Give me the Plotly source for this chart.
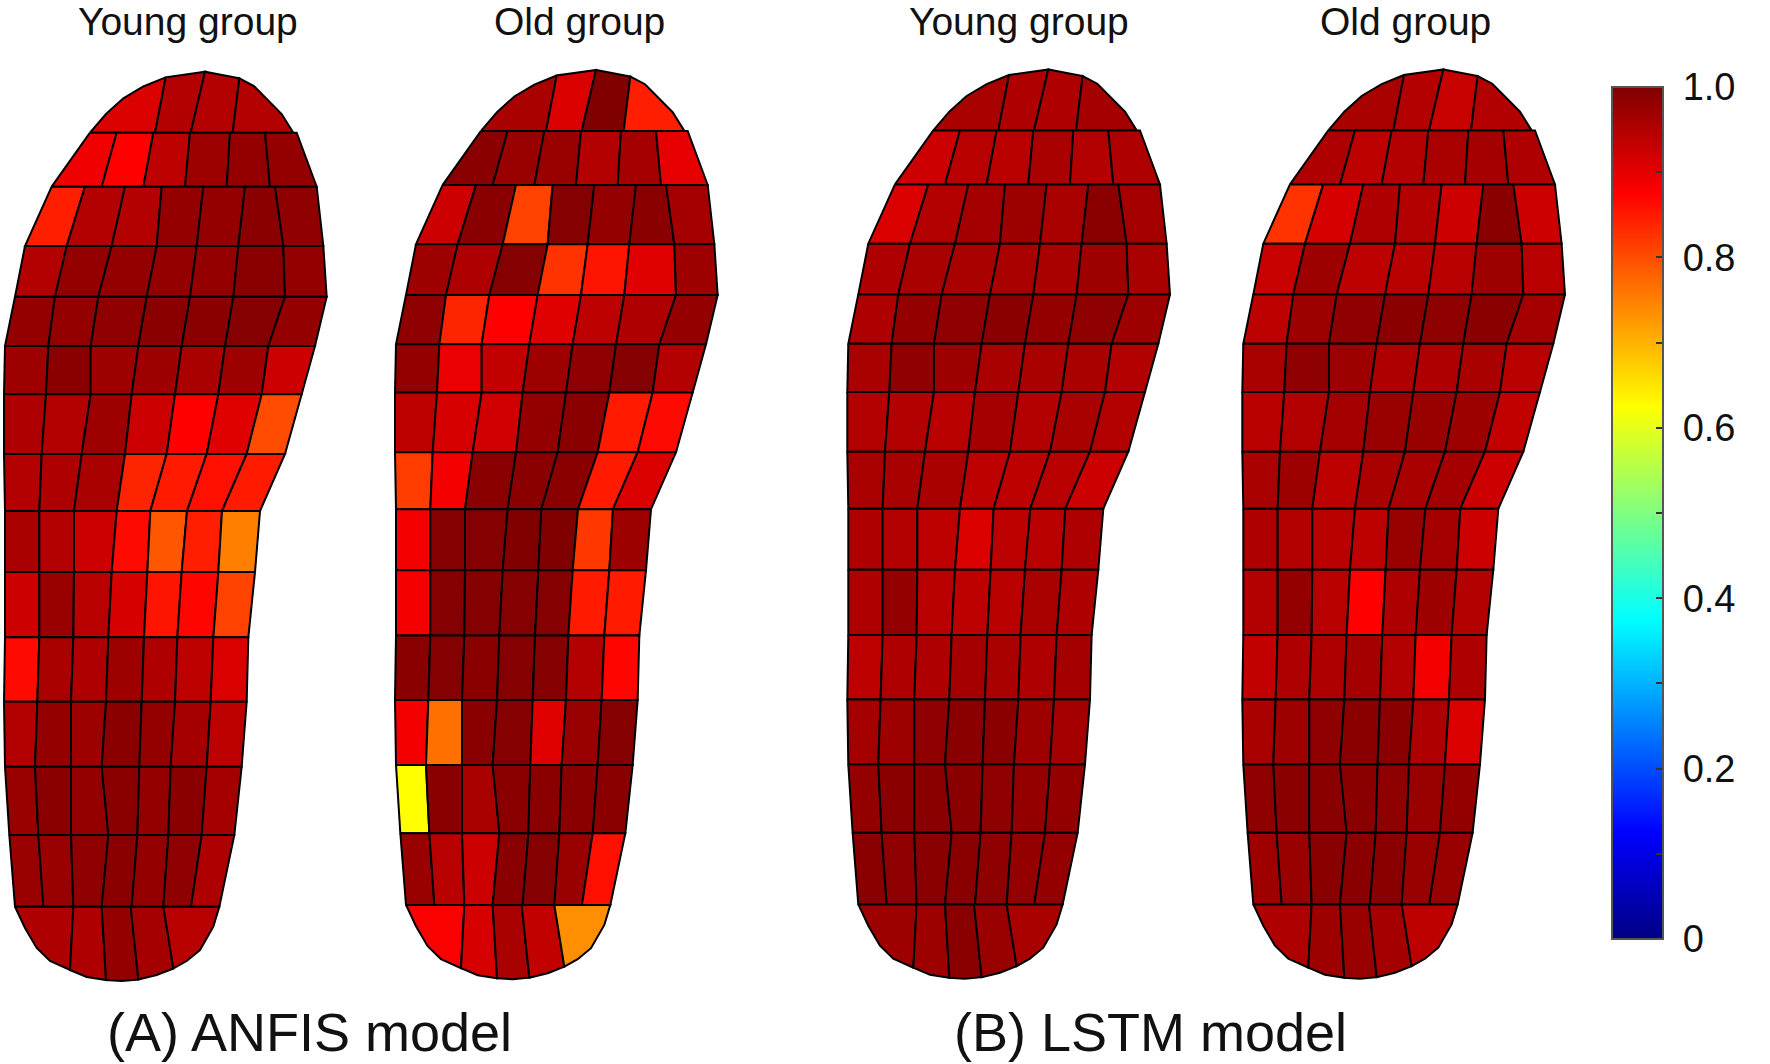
import plotly.graph_objects as go
from plotly.colors import sample_colorscale

JET = [[0, "rgb(0,0,131)"], [0.125, "rgb(0,0,255)"], [0.375, "rgb(0,255,255)"],
       [0.625, "rgb(255,255,0)"], [0.875, "rgb(255,0,0)"], [1, "rgb(128,0,0)"]]

# insole mesh: x in thirds of a pixel, y in pixels
CAP_CELLS = [
    [(270, 132.7), (465, 132.7), (497, 77.3), (430, 86.5), (370, 98.3), (318, 114)],
    [(465, 132.7), (572, 132.7), (615, 71.7), (497, 77.3)],
    [(572, 132.7), (698, 132.7), (718, 78.3), (615, 71.7)],
    [(698, 132.7), (880, 132.7), (845, 114), (800, 98.3), (762, 86), (718, 78.3)],
]
ROW1_TOP_X = [270, 350, 460, 570, 690, 795, 890]
ROW1_BOTTOM_X = [155, 305, 430, 555, 680, 810, 950]
ROW1_Y = [132.7, 186.7]
LINE_Y = [186.7, 246, 296.7, 346, 394.3, 454, 511, 572, 637.3, 701.7, 766.7, 835, 906.7]
LINE_X = [
    [155, 255, 375, 485, 610, 735, 825, 950],
    [75, 200, 335, 470, 590, 715, 850, 970],
    [45, 165, 295, 440, 570, 700, 855, 980],
    [15, 145, 272, 415, 545, 675, 805, 945],
    [12, 138, 272, 395, 525, 655, 785, 905],
    [12, 125, 245, 375, 500, 620, 740, 855],
    [15, 118, 222, 350, 451, 561, 666, 780],
    [15, 118, 222, 335, 442, 545, 655, 765],
    [15, 118, 220, 325, 432, 532, 640, 745],
    [12, 112, 213, 318, 425, 525, 632, 740],
    [15, 105, 213, 305, 418, 512, 620, 725],
    [28, 115, 213, 325, 412, 505, 605, 703],
    [45, 130, 220, 305, 395, 490, 573, 658],
]
ARC_CELLS = [
    [(45, 906.7), (220, 906.7), (210, 970), (150, 961), (110, 948), (75, 928)],
    [(220, 906.7), (305, 906.7), (318, 980), (260, 977), (210, 970)],
    [(305, 906.7), (392, 906.7), (415, 979.5), (365, 981), (318, 980)],
    [(392, 906.7), (490, 906.7), (520, 968.5), (470, 975), (415, 979.5)],
    [(490, 906.7), (658, 906.7), (640, 926.7), (600, 950), (560, 961), (520, 968.5)],
]

PANEL_X = [0, 391, 843.3, 1238.3]
PANEL_Y = [0, -1.8, -2.3, -2.3]

A_YOUNG = [
    [.91, .95, .95, .95],
    [.89, .875, .94, .97, .98, .98],
    [.845, .95, .95, .98, .98, .99, .985],
    [.95, .98, .98, .98, .98, .99, .98],
    [.98, .98, .985, .99, .99, .995, .98],
    [.97, .99, .97, .97, .96, .97, .925],
    [.955, .95, .97, .925, .875, .905, .80],
    [.95, .955, .96, .84, .85, .86, .85],
    [.96, .95, .925, .865, .79, .845, .75],
    [.925, .975, .945, .915, .855, .87, .81],
    [.865, .96, .955, .97, .955, .94, .91],
    [.95, .98, .97, .99, .98, .965, .94],
    [.975, .99, .98, .99, .98, .99, .965],
    [.975, .975, .985, .99, .98, .985, .955],
    [.955, .955, .98, .965, .945],
]
A_OLD = [
    [.96, .91, 1.0, .845],
    [.99, .975, .975, .95, .965, .90],
    [.925, .99, .81, .995, .98, .99, .965],
    [.97, .955, .995, .825, .855, .905, .97],
    [.985, .84, .875, .905, .94, .955, .98],
    [.98, .895, .935, .97, .985, .995, .95],
    [.94, .915, .92, .98, .99, .85, .865],
    [.815, .885, .99, .99, .99, .85, .91],
    [.885, .995, .995, 1.0, 1.0, .82, .97],
    [.885, .995, .995, .995, .995, .85, .85],
    [.99, .995, .99, .995, .995, .95, .87],
    [.885, .765, .99, .995, .905, .975, .995],
    [.625, .99, .96, .99, .99, .99, .99],
    [.975, .945, .925, .99, .995, .975, .86],
    [.88, .915, .96, .935, .735],
]
B_YOUNG = [
    [.96, .955, .955, .965],
    [.925, .945, .945, .96, .95, .955],
    [.91, .95, .965, .97, .96, .99, .965],
    [.955, .96, .96, .96, .96, .97, .96],
    [.955, .98, .985, .99, .98, .985, .97],
    [.96, .985, .97, .96, .96, .96, .95],
    [.95, .95, .945, .965, .95, .96, .95],
    [.96, .96, .96, .94, .94, .945, .925],
    [.955, .95, .94, .91, .94, .945, .955],
    [.955, .98, .945, .94, .945, .96, .955],
    [.94, .955, .955, .965, .96, .955, .965],
    [.965, .97, .985, .99, .99, .97, .965],
    [.98, .99, .99, .99, .985, .98, .98],
    [.99, .985, .99, .99, .985, .98, .98],
    [.97, .97, .99, .975, .96],
]
B_OLD = [
    [.96, .95, .93, .95],
    [.955, .94, .95, .96, .965, .955],
    [.825, .915, .955, .95, .925, .99, .925],
    [.93, .97, .94, .945, .945, .97, .945],
    [.94, .97, .985, .99, .985, .99, .965],
    [.96, .985, .97, .955, .955, .96, .945],
    [.945, .95, .965, .975, .975, .97, .935],
    [.96, .97, .94, .96, .96, .965, .925],
    [.955, .95, .945, .94, .975, .965, .925],
    [.95, .98, .945, .875, .955, .97, .95],
    [.935, .955, .955, .965, .95, .885, .955],
    [.96, .97, .985, .99, .99, .955, .91],
    [.985, .99, .99, .99, .985, .975, .98],
    [.97, .975, .99, .99, .99, .975, .975],
    [.955, .97, .975, .965, .94],
]
PANEL_VALUES = [A_YOUNG, A_OLD, B_YOUNG, B_OLD]

TITLES = ["Young group", "Old group", "Young group", "Old group"]
TITLE_X = [188, 579, 1019, 1405]
TITLE_Y = 21
CAPTIONS = ["(A) ANFIS model", "(B) LSTM model"]
CAPTION_X = [309, 1150]
CAPTION_Y = 1032
CBAR_TICKS = [0, .1, .2, .3, .4, .5, .6, .7, .8, .9, 1]
CBAR_TEXT = ["\u00a00", "", "\u00a00.2", "", "\u00a00.4", "", "\u00a00.6", "", "\u00a00.8", "", "\u00a01.0"]


def mesh_cells():
    cells = [[(x / 3, y) for x, y in c] for c in CAP_CELLS]
    for i in range(6):
        cells.append([(ROW1_TOP_X[i] / 3, ROW1_Y[0]), (ROW1_TOP_X[i + 1] / 3, ROW1_Y[0]),
                      (ROW1_BOTTOM_X[i + 1] / 3, ROW1_Y[1]), (ROW1_BOTTOM_X[i] / 3, ROW1_Y[1])])
    for r in range(len(LINE_Y) - 1):
        for i in range(7):
            cells.append([(LINE_X[r][i] / 3, LINE_Y[r]), (LINE_X[r][i + 1] / 3, LINE_Y[r]),
                          (LINE_X[r + 1][i + 1] / 3, LINE_Y[r + 1]), (LINE_X[r + 1][i] / 3, LINE_Y[r + 1])])
    cells += [[(x / 3, y) for x, y in c] for c in ARC_CELLS]
    return cells


fig = go.Figure()
cells = mesh_cells()
for p, rows in enumerate(PANEL_VALUES):
    flat = [v for row in rows for v in row]
    colors = sample_colorscale(JET, flat)
    for cell, col in zip(cells, colors):
        xs = [x + PANEL_X[p] for x, _ in cell] + [cell[0][0] + PANEL_X[p]]
        ys = [y + PANEL_Y[p] for _, y in cell] + [cell[0][1] + PANEL_Y[p]]
        fig.add_trace(go.Scatter(x=xs, y=ys, mode="lines", fill="toself", fillcolor=col,
                                 line=dict(color="#000000", width=2, shape="linear"),
                                 hoverinfo="skip", showlegend=False))

fig.add_trace(go.Scatter(
    x=[885], y=[532], mode="markers", hoverinfo="skip", showlegend=False,
    marker=dict(size=1, opacity=0, color=[1], coloraxis="coloraxis")))

for t, x in zip(TITLES, TITLE_X):
    fig.add_annotation(x=x, y=TITLE_Y, text=t, showarrow=False, xanchor="center", yanchor="middle",
                       font=dict(family="Liberation Sans", size=39, color="#111111"))
for t, x in zip(CAPTIONS, CAPTION_X):
    fig.add_annotation(x=x, y=CAPTION_Y, text=t, showarrow=False, xanchor="center", yanchor="middle",
                       font=dict(family="Liberation Sans", size=54, color="#111111"))

fig.update_layout(
    width=1770, height=1064, margin=dict(l=0, r=0, t=0, b=0, pad=0),
    paper_bgcolor="white", plot_bgcolor="white",
    xaxis=dict(range=[0, 1770], visible=False, fixedrange=True),
    yaxis=dict(range=[1064, 0], visible=False, fixedrange=True),
    coloraxis=dict(
        colorscale=JET, cmin=0, cmax=1,
        colorbar=dict(
            thickness=51, thicknessmode="pixels", len=852, lenmode="pixels",
            x=1612 / 1770, xanchor="left", xref="paper", xpad=0,
            y=(1064 - 939) / 1064, yanchor="bottom", yref="paper", ypad=0,
            tickmode="array", tickvals=CBAR_TICKS, ticktext=CBAR_TEXT,
            ticks="inside", ticklen=8, tickwidth=1.5, tickcolor="#333333",
            tickfont=dict(family="Liberation Sans", size=38, color="#111111"),
            outlinecolor="#555555", outlinewidth=2, borderwidth=0,
        ),
    ),
)
fig.write_html("out.html", config={"displayModeBar": False},
               post_script="document.body.style.margin='0';")
